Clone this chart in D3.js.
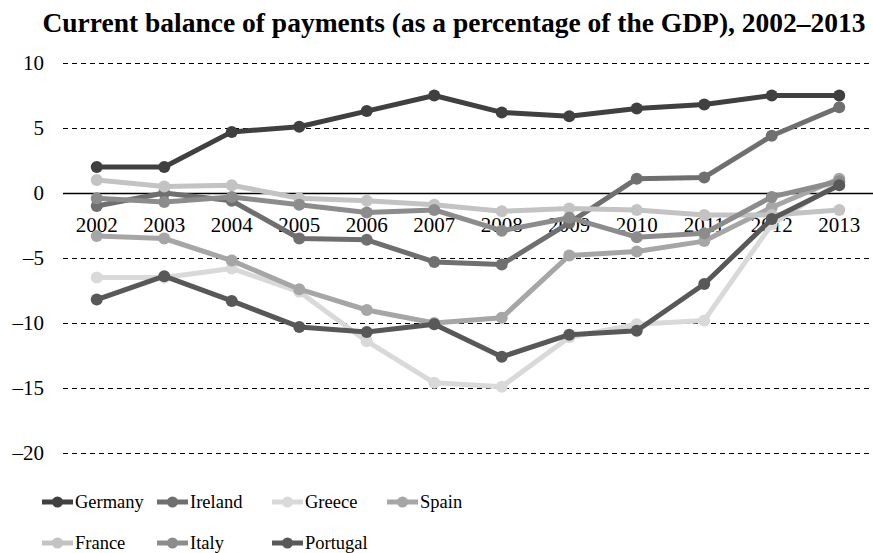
<!DOCTYPE html>
<html><head><meta charset="utf-8">
<script src="https://cdn.jsdelivr.net/npm/d3@7"></script>
<style>body{margin:0;background:#fff}svg{display:block}text{font-family:"Liberation Serif","Times New Roman",serif}</style>
</head><body>
<svg id="chart" width="873" height="553"></svg>
<script>
const years = ["2002","2003","2004","2005","2006","2007","2008","2009","2010","2011","2012","2013"];
const germany  = [2.0, 2.0, 4.7, 5.1, 6.3, 7.5, 6.2, 5.9, 6.5, 6.8, 7.5, 7.5];
const ireland  = [-1.0, 0.0, -0.6, -3.5, -3.6, -5.3, -5.5, -2.3, 1.1, 1.2, 4.4, 6.6];
const greece   = [-6.5, -6.5, -5.8, -7.6, -11.4, -14.6, -14.9, -11.1, -10.1, -9.8, -2.4, 0.8];
const spain    = [-3.3, -3.5, -5.2, -7.4, -9.0, -10.0, -9.6, -4.8, -4.5, -3.7, -1.1, 1.1];
const france   = [1.0, 0.5, 0.6, -0.4, -0.6, -0.9, -1.4, -1.2, -1.3, -1.7, -1.7, -1.3];
const italy    = [-0.4, -0.7, -0.3, -0.9, -1.5, -1.3, -2.9, -1.9, -3.4, -3.1, -0.3, 0.9];
const portugal = [-8.2, -6.4, -8.3, -10.3, -10.7, -10.1, -12.6, -10.9, -10.6, -7.0, -2.0, 0.6];
const seriesNames = ["Germany","Ireland","Greece","Spain","France","Italy","Portugal"];
const yTicks = [10, 5, 0, -5, -10, -15, -20];
const colors = ["#404040","#6f6f6f","#d9d9d9","#a6a6a6","#c3c3c3","#8c8c8c","#585858"];
const seriesValues = [germany, ireland, greece, spain, france, italy, portugal];
const title = "Current balance of payments (as a percentage of the GDP), 2002\u20132013";

const svg = d3.select("#chart");
const x = d3.scalePoint().domain(years).range([96.75, 839.25]);
const y = d3.scaleLinear().domain([-20, 10]).range([453, 63]);
const fmt = v => v < 0 ? "\u2013" + Math.abs(v) : String(v);

svg.append("text").attr("x", 454).attr("y", 32).attr("text-anchor","middle")
  .attr("font-size", 27.5).attr("font-weight","bold").text(title);

// grid
const grid = svg.append("g");
yTicks.forEach(t => {
  grid.append("line").attr("x1", 63).attr("x2", 873).attr("y1", y(t) + 0.5).attr("y2", y(t) + 0.5)
    .attr("stroke", "#000").attr("stroke-width", t === 0 ? 1.5 : 1)
    .attr("stroke-dasharray", t === 0 ? null : "5,4");
  grid.append("text").attr("x", 44).attr("y", y(t)).attr("dy","0.35em")
    .attr("text-anchor","end").attr("font-size", 21).text(fmt(t));
});

// x labels
svg.append("g").selectAll("text").data(years).join("text")
  .attr("x", d => x(d)).attr("y", 232).attr("text-anchor","middle")
  .attr("font-size", 21).text(d => d);

const line = d3.line().x((d,i) => x(years[i])).y(d => y(d));
seriesValues.forEach((vals, k) => {
  const g = svg.append("g");
  g.append("path").datum(vals).attr("d", line).attr("fill","none")
    .attr("stroke", colors[k]).attr("stroke-width", 5).attr("stroke-linejoin","round");
  g.selectAll("circle").data(vals).join("circle")
    .attr("cx", (d,i) => x(years[i])).attr("cy", d => y(d)).attr("r", 6).attr("fill", colors[k]);
});

// legend
const leg = svg.append("g");
seriesNames.forEach((n, k) => {
  const col = k % 4, row = Math.floor(k / 4);
  const lx = 42 + col * 115, ly = 502 + row * 41;
  leg.append("line").attr("x1", lx).attr("x2", lx + 31).attr("y1", ly).attr("y2", ly)
    .attr("stroke", colors[k]).attr("stroke-width", 5);
  leg.append("circle").attr("cx", lx + 15.5).attr("cy", ly).attr("r", 5.5).attr("fill", colors[k]);
  leg.append("text").attr("x", lx + 33).attr("y", ly).attr("dy","0.35em")
    .attr("font-size", 18.5).text(n);
});
</script>
</body></html>
